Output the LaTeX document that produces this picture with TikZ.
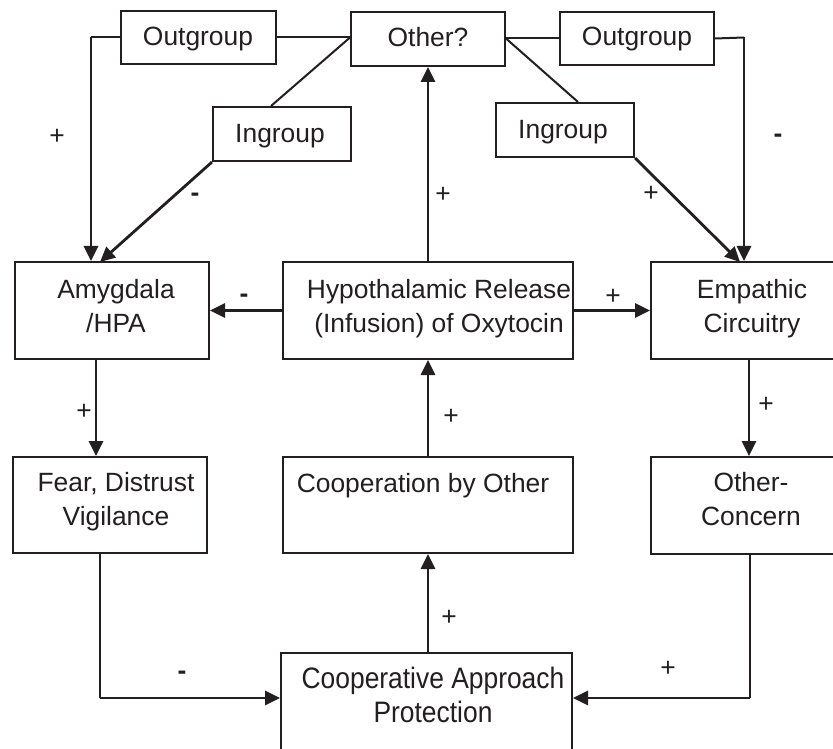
\documentclass[tikz,border=0pt]{standalone}
\usepackage{fontspec}
\setmainfont{Liberation Sans}
\usetikzlibrary{arrows.meta,calc}
\definecolor{ink}{HTML}{231F20}
\begin{document}
\begin{tikzpicture}[x=0.5pt,y=-0.5pt,
  box/.style={draw=ink,line width=1pt,inner sep=0pt},
  txt/.style={text=ink,font=\fontsize{13.2}{16.75}\selectfont,align=center,inner sep=0pt,anchor=base},
  plus/.style={text=ink,font=\fontsize{13.2}{16}\selectfont,inner sep=0pt,anchor=center},
  minus/.style={text=ink,font=\bfseries\fontsize{13.2}{16}\selectfont,inner sep=0pt,anchor=base},
  ln/.style={draw=ink,line width=1pt},
  arr/.style={draw=ink,line width=1.4pt,-{Triangle[length=7.5pt,width=7pt]}}]
\useasboundingbox (0,0) rectangle (833,748);
\clip (0,0) rectangle (833,748);
\fill[white] (0,0) rectangle (833,748);
% boxes
\node[box,minimum width=77.5pt,minimum height=26.5pt] (ogl) at (198.5,37.5) {};
\node[box,minimum width=77pt,minimum height=27pt] (oth) at (428,39) {};
\node[box,minimum width=77pt,minimum height=26.5pt] (ogr) at (637,38.5) {};
\node[box,minimum width=69pt,minimum height=27pt] (igl) at (282,134) {};
\node[box,minimum width=69pt,minimum height=27pt] (igr) at (565,130) {};
\node[box,minimum width=97pt,minimum height=48.5pt] (amy) at (112,310.5) {};
\node[box,minimum width=145pt,minimum height=48.5pt] (hyp) at (428,310.5) {};
\node[box,minimum width=97pt,minimum height=48.5pt] (emp) at (748,310.5) {};
\node[box,minimum width=97pt,minimum height=48pt] (fear) at (110,505) {};
\node[box,minimum width=145pt,minimum height=48pt] (coop) at (428,505) {};
\node[box,minimum width=97pt,minimum height=48.5pt] (oc) at (748,505.5) {};
\node[box,minimum width=145.5pt,minimum height=48.5pt] (cap) at (426.5,701.5) {};
% texts
\node[txt] (oglt) at (198,46) {Outgroup};
\node[txt] (otht) at (428,47) {Other?};
\node[txt] (ogrt) at (637,46) {Outgroup};
\node[txt] (iglt) at (280,143) {Ingroup};
\node[txt] (igrt) at (563,139) {Ingroup};
\node[txt] (amyt) at (116,332) {Amygdala\\/HPA};
\node[txt] (hypt) at (439,332) {Hypothalamic Release\\(Infusion) of Oxytocin};
\node[txt] (empt) at (752,332) {Empathic\\Circuitry};
\node[txt] (feart) at (116,525) {Fear, Distrust\\Vigilance};
\node[txt] (coopt) at (423,492) {Cooperation by Other};
\node[txt] (oct) at (751,525) {Other-\\Concern};
\node[txt] (capt) at (433,722) {\scalebox{1}[1.12]{Cooperative Approach}\\\scalebox{1}[1.12]{Protection}};
% connectors
\coordinate (kL) at (91,37.5);
\coordinate (kR) at (744,37.5);
\coordinate (aL) at (100,262);
\coordinate (aR) at (740,262);
\coordinate (bL) at (100,698);
\coordinate (bR) at (750,698);
\draw[ln] (ogl.east) -- (ogl.east -| oth.west);
\draw[ln] (oth.east |- ogr.west) -- (ogr.west);
\draw[ln] (ogl.west) -- (kL);
\draw[arr] (kL) -- (kL |- amy.north);
\draw[ln] (ogr.east) -- (kR);
\draw[arr] (kR) -- (kR |- emp.north);
\draw[ln] ([xshift=-5.5pt]igl.north) -- (ogl.east -| oth.west);
\draw[ln] (oth.east |- ogr.west) -- ([xshift=6.5pt]igr.north);
\draw[arr] (igl.south west) -- (aL);
\draw[arr] (igr.south east) -- (aR);
\draw[arr] (hyp.north) -- (oth.south);
\draw[arr] (hyp.west) -- (amy.east);
\draw[arr] (hyp.east) -- (emp.west);
\draw[arr] ([xshift=-8pt]amy.south) -- ([xshift=-8pt]amy.south |- fear.north);
\draw[arr] (coop.north) -- (hyp.south);
\draw[arr] ([xshift=0.5pt]emp.south) -- ([xshift=0.5pt]emp.south |- oc.north);
\draw[ln] (bL |- fear.south) -- (bL);
\draw[arr] (bL) -- (bL -| cap.west);
\draw[ln] (bR |- oc.south) -- (bR);
\draw[arr] (bR) -- (bR -| cap.east);
\draw[arr] (cap.north -| coop.south) -- (coop.south);
% signs
\node[plus] (p1) at (57,137) {+};
\node[minus] (m1) at (195,202) {-};
\node[plus] (p2) at (443,195) {+};
\node[plus] (p3) at (651,194) {+};
\node[minus] (m2) at (778,143) {-};
\node[minus] (m3) at (244,302) {-};
\node[plus] (p4) at (613,297) {+};
\node[plus] (p5) at (84,412) {+};
\node[plus] (p6) at (451,417) {+};
\node[plus] (p7) at (766,405) {+};
\node[minus] (m4) at (182,679) {-};
\node[plus] (p8) at (668,669) {+};
\node[plus] (p9) at (449,618) {+};
\end{tikzpicture}
\end{document}
